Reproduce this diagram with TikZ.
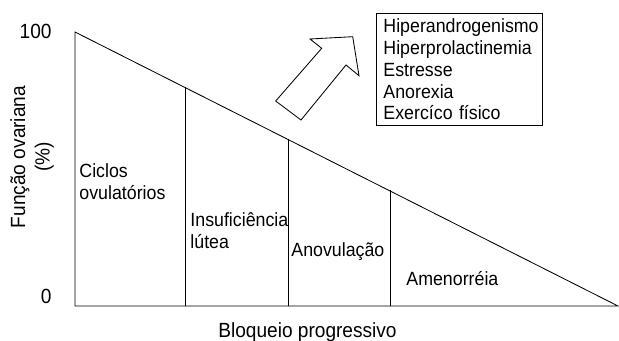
\documentclass[tikz,border=0pt]{standalone}
\usepackage{fontspec}
\setmainfont{Liberation Sans}[FakeStretch=0.93]
\usetikzlibrary{positioning, calc}

\begin{document}
\begin{tikzpicture}[x=0.025cm, y=-0.025cm, line width=0.6pt,
    lbl/.style={font=\fontsize{13.6}{15.5}\selectfont, inner sep=0pt, align=left},
    axlbl/.style={font=\fontsize{14.6}{17.5}\selectfont, inner sep=0pt, align=center}]
  \useasboundingbox (0,0) rectangle (619,341);
  % triangle of ovarian function
  \coordinate (top) at (75,32);
  \coordinate (orig) at (75,306);
  \coordinate (tip) at (618,306);
  \draw (top) -- (orig) -- (tip) -- cycle;
  \foreach \i/\x/\y in {1/185/87,2/288/139,3/390/190} {
    \coordinate (up\i) at (\x,\y);
    \coordinate (dn\i) at (\x,306);
    \draw (dn\i) -- (up\i);
  }
  % axes
  \node[axlbl, anchor=base east] (hundred) at (52,39) {100};
  \node[axlbl, anchor=base east] (zero) at (52,303) {0};
  \node[axlbl, rotate=90] (ylab) at (32,157) {Função ovariana\\(\%)};
  \node[axlbl, anchor=base] (xlab) at (307.5,337) {Bloqueio progressivo};
  % phases
  \node[lbl, anchor=north west] (ciclos) at (79,163) {Ciclos\\ovulatórios};
  \node[lbl, anchor=north west] (insuf) at (190,212) {Insuficiência\\lútea};
  \node[lbl, anchor=north west] (anov) at (291,242) {Anovulação};
  \node[lbl, anchor=north west] (amen) at (406,271) {Amenorréia};
  % causes
  \node[lbl, draw, anchor=north west, inner xsep=5pt, inner ysep=3pt,
        text width=3.8cm, minimum height=2.8cm] (causas) at (376,13)
    {Hiperandrogenismo\\Hiperprolactinemia\\Estresse\\Anorexia\\Exercíco físico};
  \draw (275.7,101) -- (301,120) -- (346,65) -- (359,75.7) -- (352.7,36.7)
    -- (310,39) -- (321.7,48.3) -- cycle;
\end{tikzpicture}
\end{document}
